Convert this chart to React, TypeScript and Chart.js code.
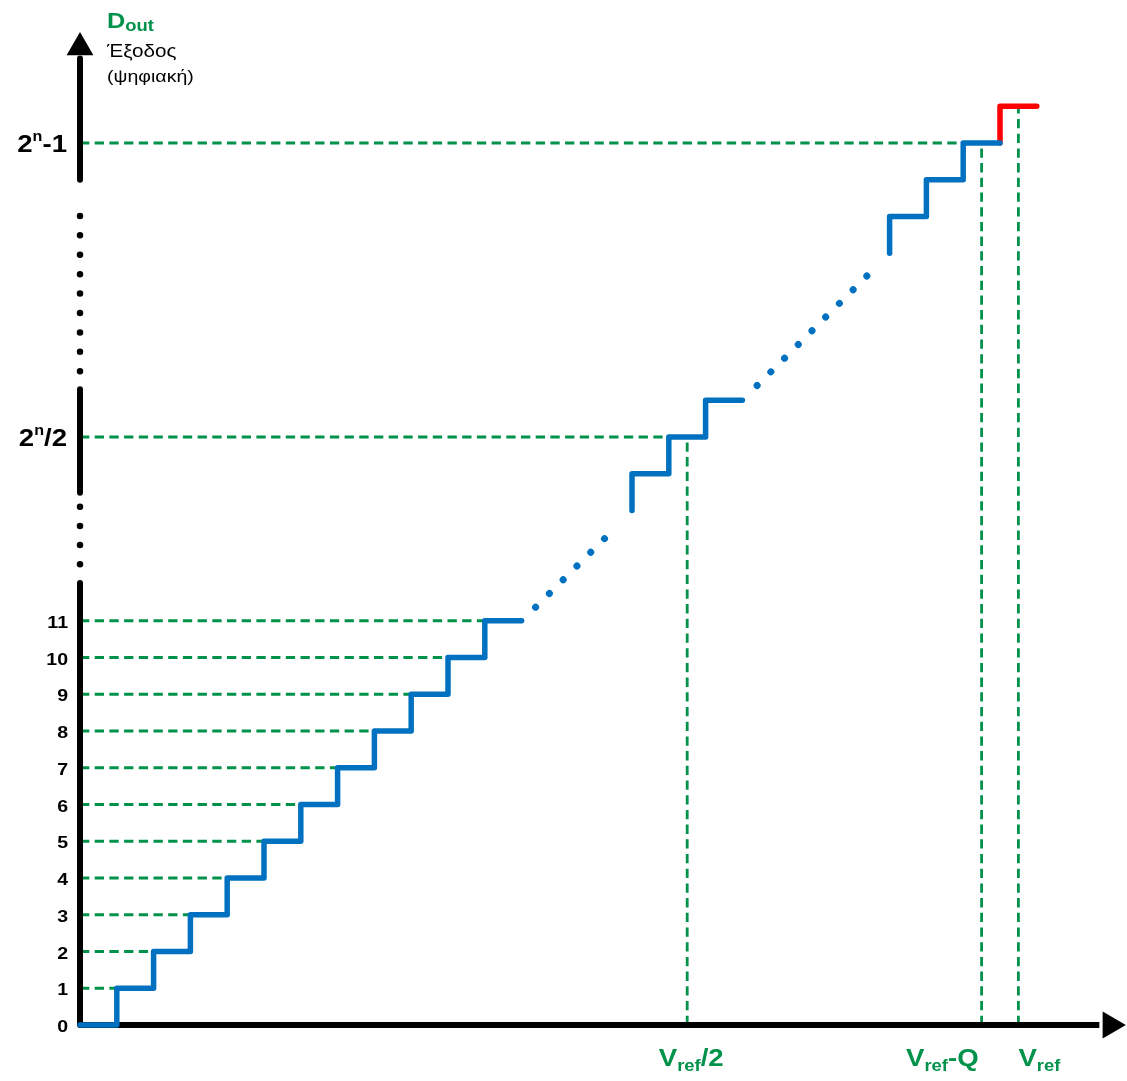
import React, { useEffect, useRef } from "react";
import { Chart, registerables } from "chart.js";

Chart.register(...registerables);

// ---- data ----
// lower staircase (input steps -> output code)
const lowerInputs = [0, 1, 2, 3, 4, 5, 6, 7, 8, 9, 10, 11, 12];
const lowerCodes = [0, 1, 2, 3, 4, 5, 6, 7, 8, 9, 10, 11, 11];
// middle staircase around 2^n/2
const midInputs = [15, 15, 16, 17, 18];
const midCodes = [14, 15, 16, 17, 17];
// top staircase near 2^n-1
const topInputs = [22, 22, 23, 24, 25];
const topCodes = [21, 22, 23, 24, 24];
// overflow step (red)
const overInputs = [25, 25, 26];
const overCodes = [24, 25, 25];
// dotted continuation of the staircase
const gapLowInputs = [12.38, 14.62];
const gapLowCodes = [11.37, 13.6];
const gapHighInputs = [18.4, 21.75];
const gapHighCodes = [17.4, 20.75];

// horizontal guide lines: level -> reaches the step at same input
const guideLevels = [1, 2, 3, 4, 5, 6, 7, 8, 9, 10, 11, 16, 24];
// vertical guide lines on the input axis
const markInputs = [16.5, 24.5, 25.5];
const markCodes = [16, 24, 25];
const markSuffix = ["/2", "-Q", ""];
const markAlign = ["center", "right", "left"];
const markShift = [4, -3, 0];

// y-axis tick labels
const yTickValues = [0, 1, 2, 3, 4, 5, 6, 7, 8, 9, 10, 11];
const yTickLabels = ["0", "1", "2", "3", "4", "5", "6", "7", "8", "9", "10", "11"];
const specialTickValues = [16, 24];
const specialTickSuffix = ["/2", "-1"];

// axis pieces (y axis has dotted interruptions)
const axisSolidSegments = [
  [0, 12.03],
  [14.48, 17.3],
  [23, 26.3],
];
const axisDotSegments = [
  [12.54, 14.1],
  [17.79, 22.54],
];
const axisDotGaps = [19.1, 19.4];
const xAxisEnd = 27.7;
const yArrowAt = 26.6;
const xArrowAt = 28.0;

const GREEN = "#00924A";
const BLUE = "#0070C0";
const RED = "#FF0000";
const FONT = "'Liberation Sans', Arial, sans-serif";
const SX = 1.15;

type Part = { text: string; font: string; color: string; dy?: number };

function drawParts(
  ctx: CanvasRenderingContext2D,
  parts: Part[],
  x: number,
  baseline: number,
  align: string
) {
  let total = 0;
  const widths = parts.map((p) => {
    ctx.font = p.font;
    const w = ctx.measureText(p.text).width * SX;
    total += w;
    return w;
  });
  let cx = align === "right" ? x - total : align === "center" ? x - total / 2 : x;
  parts.forEach((p, i) => {
    ctx.save();
    ctx.font = p.font;
    ctx.fillStyle = p.color;
    ctx.textBaseline = "alphabetic";
    ctx.textAlign = "left";
    ctx.translate(cx, baseline + (p.dy || 0));
    ctx.scale(SX, 1);
    ctx.fillText(p.text, 0, 0);
    ctx.restore();
    cx += widths[i];
  });
}

const labelPlugin = {
  id: "adcLabels",
  afterDatasetsDraw(chart: any) {
    const ctx: CanvasRenderingContext2D = chart.ctx;
    const xs = chart.scales.x;
    const ys = chart.scales.y;
    const x0 = xs.getPixelForValue(0);

    // numeric ticks
    yTickValues.forEach((v, i) => {
      drawParts(
        ctx,
        [{ text: yTickLabels[i], font: `bold 17px ${FONT}`, color: "#000" }],
        x0 - 12,
        ys.getPixelForValue(v) + 7,
        "right"
      );
    });
    // 2^n ticks
    specialTickValues.forEach((v, i) => {
      drawParts(
        ctx,
        [
          { text: "2", font: `bold 24px ${FONT}`, color: "#000" },
          { text: "n", font: `bold 14px ${FONT}`, color: "#000", dy: -11 },
          { text: specialTickSuffix[i], font: `bold 24px ${FONT}`, color: "#000" },
        ],
        x0 - 13,
        ys.getPixelForValue(v) + 9,
        "right"
      );
    });
    // x labels
    const yBase = ys.getPixelForValue(0);
    markInputs.forEach((v, i) => {
      const parts: Part[] = [
        { text: "V", font: `bold 24px ${FONT}`, color: GREEN },
        { text: "ref", font: `bold 16px ${FONT}`, color: GREEN, dy: 5 },
      ];
      if (markSuffix[i]) parts.push({ text: markSuffix[i], font: `bold 24px ${FONT}`, color: GREEN });
      drawParts(ctx, parts, xs.getPixelForValue(v) + markShift[i], yBase + 41, markAlign[i]);
    });
    // axis title
    drawParts(
      ctx,
      [
        { text: "D", font: `bold 22px ${FONT}`, color: GREEN },
        { text: "out", font: `bold 16px ${FONT}`, color: GREEN, dy: 3 },
      ],
      x0 + 27,
      28,
      "left"
    );
    drawParts(ctx, [{ text: "Έξοδος", font: `18px ${FONT}`, color: "#000" }], x0 + 27, 57, "left");
    drawParts(ctx, [{ text: "(ψηφιακή)", font: `17px ${FONT}`, color: "#000" }], x0 + 27, 82, "left");
  },
};

function pts(xs: number[], ys: number[]) {
  return xs.map((x, i) => ({ x, y: ys[i] }));
}

export default function App() {
  const ref = useRef<HTMLCanvasElement | null>(null);
  useEffect(() => {
    if (!ref.current) return;
    const base = {
      type: "line" as const,
      pointRadius: 0,
      fill: false,
      tension: 0,
      clip: false as any,
      borderJoinStyle: "miter" as const,
    };
    const datasets: any[] = [];
    // guides
    guideLevels.forEach((lv) => {
      datasets.push({
        ...base,
        data: pts([0, lv], [lv, lv]),
        borderColor: GREEN,
        borderWidth: 2.8,
        borderDash: [9.3, 5.4],
        order: 6,
      });
    });
    markInputs.forEach((mx, i) => {
      datasets.push({
        ...base,
        data: pts([mx, mx], [0, markCodes[i]]),
        borderColor: GREEN,
        borderWidth: 2.8,
        borderDash: [9.3, 5.4],
        order: 6,
      });
    });
    // axes
    axisSolidSegments.forEach((s) => {
      datasets.push({
        ...base,
        data: pts([0, 0], s),
        borderColor: "#000",
        borderWidth: 6,
        borderCapStyle: "round",
        order: 4,
      });
    });
    axisDotSegments.forEach((s, i) => {
      datasets.push({
        ...base,
        data: pts([0, 0], s),
        borderColor: "#000",
        borderWidth: 6.5,
        borderCapStyle: "round",
        borderDash: [0.01, axisDotGaps[i]],
        order: 4,
      });
    });
    datasets.push({
      ...base,
      data: pts([0, xAxisEnd], [0, 0]),
      borderColor: "#000",
      borderWidth: 6,
      borderCapStyle: "butt",
      order: 4,
    });
    datasets.push({
      type: "scatter",
      data: [{ x: 0, y: yArrowAt }],
      pointStyle: "triangle",
      pointRadius: 15.5,
      rotation: 0,
      backgroundColor: "#000",
      borderWidth: 0,
      clip: false,
      order: 3,
    });
    datasets.push({
      type: "scatter",
      data: [{ x: xArrowAt, y: 0 }],
      pointStyle: "triangle",
      pointRadius: 15.5,
      rotation: 90,
      backgroundColor: "#000",
      borderWidth: 0,
      clip: false,
      order: 3,
    });
    // staircases
    [
      [lowerInputs, lowerCodes],
      [midInputs, midCodes],
      [topInputs, topCodes],
    ].forEach(([xs, ys]) => {
      datasets.push({
        ...base,
        data: pts(xs, ys),
        stepped: "before",
        borderColor: BLUE,
        borderWidth: 5.5,
        borderCapStyle: "round",
        borderJoinStyle: "round",
        order: 1,
      });
    });
    datasets.push({
      ...base,
      data: pts(overInputs, overCodes),
      stepped: "before",
      borderColor: RED,
      borderWidth: 5.5,
      borderCapStyle: "round",
      borderJoinStyle: "round",
      order: 1,
    });
    [
      [gapLowInputs, gapLowCodes, 19.43],
      [gapHighInputs, gapHighCodes, 19.37],
    ].forEach(([xs, ys, gap]: any) => {
      datasets.push({
        ...base,
        data: pts(xs, ys),
        borderColor: BLUE,
        borderWidth: 7,
        borderCapStyle: "round",
        borderDash: [0.01, gap],
        order: 1,
      });
    });

    const chart = new Chart(ref.current, {
      type: "line",
      data: { datasets },
      options: {
        animation: false,
        responsive: false,
        maintainAspectRatio: false,
        devicePixelRatio: 1,
        events: [],
        layout: { padding: { left: 80, right: 16.6, top: 32.75, bottom: 56 } },
        plugins: { legend: { display: false }, tooltip: { enabled: false }, title: { display: false } },
        scales: {
          x: { type: "linear", min: 0, max: 28, display: false },
          y: { type: "linear", min: 0, max: 27, display: false },
        },
      },
      plugins: [labelPlugin],
    } as any);
    return () => chart.destroy();
  }, []);
  return (
    <div style={{ position: "absolute", left: 0, top: 0, width: 1127, height: 1081, background: "#fff" }}>
      <canvas ref={ref} width={1127} height={1081} style={{ display: "block" }} />
    </div>
  );
}
